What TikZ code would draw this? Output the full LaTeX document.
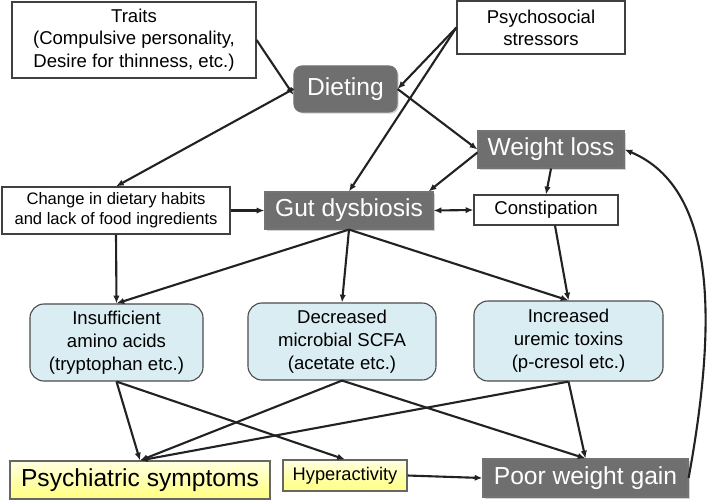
\documentclass[tikz,border=0pt]{standalone}
\usepackage{fontspec}
\setmainfont{Liberation Sans}
\usetikzlibrary{arrows.meta,calc,shadows}
\definecolor{boxgray}{HTML}{6F6F6F}
\definecolor{boxblue}{HTML}{DAEDF3}
\definecolor{lineblack}{HTML}{222222}
\tikzset{
  plainbox/.style={
    draw = black!75,
    fill = white,
    line width = 0.8pt,
    inner sep = 1pt,
    align = center,
    font = \fontsize{13.2}{16}\selectfont
  },
  graybox/.style={
    draw = black!55,
    fill = boxgray,
    text = white,
    line width = 0.8pt,
    inner sep = 1pt,
    drop shadow = {shadow xshift=1.2pt, shadow yshift=-1.2pt, opacity=0.35},
    font = \fontsize{17.5}{20}\selectfont
  },
  bluebox/.style={
    draw = black!70,
    fill = boxblue,
    rounded corners = 0.35cm,
    line width = 0.8pt,
    inner sep = 1pt,
    align = center,
    font = \fontsize{13.2}{16.3}\selectfont
  },
  yellowbox/.style={
    draw = black!60,
    top color = yellow!12,
    bottom color = yellow!50,
    line width = 0.8pt,
    inner sep = 1pt
  },
  arr/.style={
    ->,
    >={Latex[length=5.5pt,width=4.5pt]},
    draw = lineblack,
    line width = 1.5pt
  }
}
\begin{document}
\begin{tikzpicture}[x=0.025cm,y=-0.025cm]
  \useasboundingbox (0,0) rectangle (709,501);
  % top row
  \node[plainbox, minimum width=6.1cm, minimum height=1.9cm] (traits) at (134,40)
    {Traits\\(Compulsive personality,\\Desire for thinness, etc.)};
  \node[plainbox, minimum width=4.2cm, minimum height=1.325cm, font=\fontsize{13.2}{15.6}\selectfont] (stress) at (541,27.5)
    {Psychosocial\\stressors};
  \node[graybox, rounded corners=0.2cm, minimum width=2.575cm, minimum height=1.15cm] (diet) at (345.5,89) {Dieting};
  \node[graybox, minimum width=3.65cm, minimum height=0.925cm] (wloss) at (551,149.5) {Weight loss};
  % middle row
  \node[plainbox, minimum width=5.7cm, minimum height=1.175cm, font=\fontsize{11.8}{14.2}\selectfont] (habits) at (116,210.5)
    {Change in dietary habits\\and lack of food ingredients};
  \node[graybox, minimum width=4.2cm, minimum height=0.925cm] (gut) at (349,210.5) {Gut dysbiosis};
  \node[plainbox, minimum width=3.6cm, minimum height=0.75cm] (const) at (546,210) {Constipation};
  % metabolites
  \node[bluebox, minimum width=4.325cm, minimum height=1.925cm] (amino) at (116.5,342.5)
    {Insufficient\\amino acids\\(tryptophan etc.)};
  \node[bluebox, minimum width=4.7cm, minimum height=1.925cm] (scfa) at (342,341.5)
    {Decreased\\microbial SCFA\\(acetate etc.)};
  \node[bluebox, minimum width=4.725cm, minimum height=2cm] (toxin) at (568.5,341)
    {Increased\\uremic toxins\\(p-cresol etc.)};
  % outcomes
  \node[yellowbox, minimum width=6.5cm, minimum height=0.95cm, font=\fontsize{17.5}{20}\selectfont] (psych) at (140,480) {Psychiatric symptoms};
  \node[yellowbox, minimum width=3.1cm, minimum height=0.775cm, font=\fontsize{13}{15}\selectfont] (hyper) at (345,475.5) {Hyperactivity};
  \node[graybox, minimum width=5.125cm, minimum height=0.95cm] (poor) at (585.5,478) {Poor weight gain};

  \draw[arr] (traits.east) -- ($(diet.west)+(0,6)$);
  \draw[arr] (stress.west) -- (diet.east);
  \draw[arr] (stress.west) -- (gut.north);
  \draw[arr] (diet.east) -- (wloss.west);
  \draw[arr] (diet.west) -- (habits.north);
  \draw[arr] ($(wloss.west)+(0,3)$) -- ($(gut.north east)+(-5,0)$);
  \draw[arr] (wloss.south) -- (const.north);
  \draw[arr,<->] (gut.east) -- (const.west);
  \draw[arr] (habits.east) -- (gut.west);
  \draw[arr] (habits.south) -- (amino.north);
  \draw[arr] (gut.south) -- (amino.north);
  \draw[arr] (gut.south) -- (scfa.north);
  \draw[arr] (gut.south) -- (toxin.north);
  \draw[arr] ($(const.south)+(9,0)$) -- (toxin.north);
  \draw[arr] (amino.south) -- (psych.north);
  \draw[arr] (amino.south) -- (hyper.north);
  \draw[arr] (scfa.south) -- (psych.north);
  \draw[arr] (scfa.south) -- (poor.north);
  \draw[arr] (toxin.south) -- (psych.north);
  \draw[arr] (toxin.south) -- (poor.north);
  \draw[arr] (hyper.east) -- (poor.west);
  \draw[arr] (poor.east) .. controls +(27,-148) and +(95,40) .. (wloss.east);
\end{tikzpicture}
\end{document}
